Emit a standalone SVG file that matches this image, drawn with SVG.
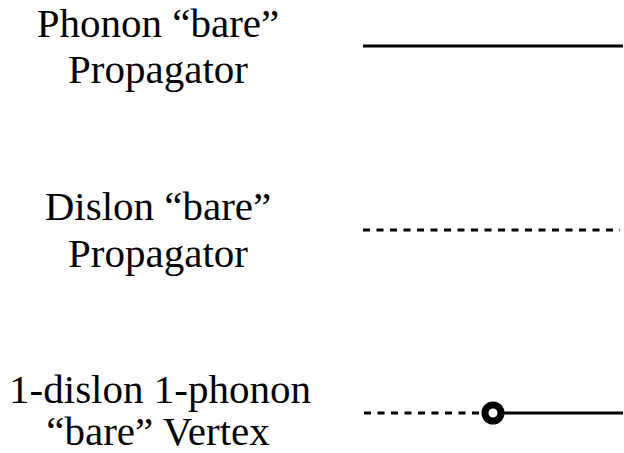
<svg xmlns="http://www.w3.org/2000/svg" width="624" height="453" viewBox="0 0 624 453">
<style>
.lbl{font-size:41px;fill:#000;text-anchor:middle}
.solid{stroke:#000;stroke-width:3;fill:none}
.dash{stroke:#000;stroke-width:3;fill:none;stroke-dasharray:7 6.5}
</style>
<rect width="624" height="453" fill="#fff"/>
<g font-family="Liberation Serif, Times New Roman, serif">
<g id="label-phonon">
<text class="lbl" x="158" y="37">Phonon “bare”</text>
<text class="lbl" x="158" y="83">Propagator</text>
</g>
<g id="label-dislon">
<text class="lbl" x="158" y="220">Dislon “bare”</text>
<text class="lbl" x="158" y="267">Propagator</text>
</g>
<g id="label-vertex">
<text class="lbl" x="160" y="403">1-dislon 1-phonon</text>
<text class="lbl" x="158" y="445">“bare” Vertex</text>
</g>
</g>
<g id="connectors">
<line id="phonon-line" class="solid" x1="363" y1="46" x2="623" y2="46"/>
<line id="dislon-line" class="dash" x1="363" y1="230" x2="620" y2="230"/>
<line id="vertex-dash" class="dash" x1="364" y1="413" x2="486" y2="413"/>
<line id="vertex-solid" class="solid" x1="500" y1="413" x2="623" y2="413"/>
</g>
<g id="vertex">
<circle cx="493" cy="413" r="8" fill="#fff" stroke="#000" stroke-width="7"/>
</g>
</svg>
